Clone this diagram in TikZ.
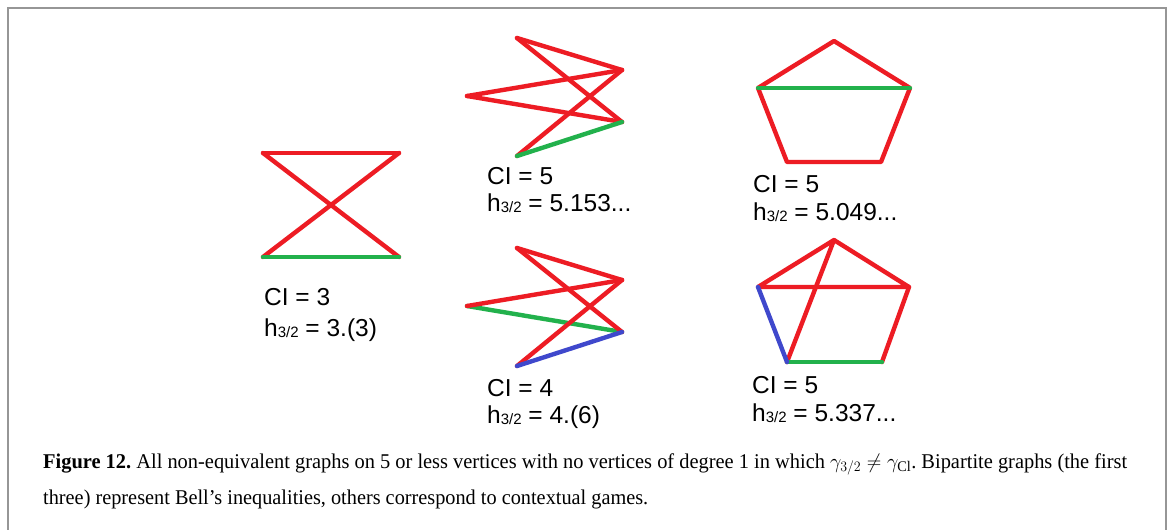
\documentclass[tikz,border=0pt]{standalone}
\usepackage{fontspec}
\usepackage{graphicx}
\setmainfont{Liberation Serif}
\newfontfamily\lblfont{Liberation Sans}
\definecolor{pred}{RGB}{237,28,36}
\definecolor{pgreen}{RGB}{34,177,76}
\definecolor{pblue}{RGB}{63,72,204}
\definecolor{framegray}{RGB}{150,150,150}
\newcommand{\hsub}{h\raisebox{-1.5pt}{\fontsize{15}{15}\selectfont 3/2}}
\frenchspacing
\begin{document}
\begin{tikzpicture}[x=1pt,y=-1pt,
  redge/.style={pred, line width=4.4pt, line cap=round},
  gedge/.style={pgreen, line width=4.4pt, line cap=round},
  bedge/.style={pblue, line width=4.4pt, line cap=round},
  lbl/.style={anchor=base west, inner sep=0pt, font=\lblfont\fontsize{24.5}{24.5}\selectfont},
  captext/.style={anchor=base west, inner sep=0pt, font=\fontsize{21}{25}\selectfont}]
\useasboundingbox (0,0) rectangle (1171,530);
\fill[white] (0,0) rectangle (1171,530);
\draw[framegray, line width=2pt] (8,540) -- (8,7.5) -- (1166,7.5) -- (1166,540);

% Graph 1
\coordinate (g1a) at (263,153);
\coordinate (g1b) at (399,153);
\coordinate (g1c) at (263,257);
\coordinate (g1d) at (399,257);
\draw[redge] (g1a) -- (g1b);
\draw[redge] (g1a) -- (g1d);
\draw[redge] (g1b) -- (g1c);
\draw[gedge] (g1c) -- (g1d);
\node[lbl] (g1l1) at (264,305) {CI = 3};
\node[lbl] (g1l2) at (264,336) {\hsub{} = 3.(3)};

% Graph 2
\coordinate (g2a) at (517,38);
\coordinate (g2b) at (622,70);
\coordinate (g2c) at (467,96);
\coordinate (g2d) at (622,122);
\coordinate (g2e) at (517,156);
\draw[redge] (g2a) -- (g2b);
\draw[redge] (g2a) -- (g2d);
\draw[redge] (g2c) -- (g2b);
\draw[redge] (g2c) -- (g2d);
\draw[redge] (g2e) -- (g2b);
\draw[gedge] (g2e) -- (g2d);
\node[lbl] (g2l1) at (487,184) {CI = 5};
\node[lbl] (g2l2) at (487,211) {\hsub{} = 5.153...};

% Graph 3
\coordinate (g3a) at (517,248);
\coordinate (g3b) at (622,280);
\coordinate (g3c) at (467,306);
\coordinate (g3d) at (622,332);
\coordinate (g3e) at (517,366);
\draw[gedge] (g3c) -- (g3d);
\draw[redge] (g3a) -- (g3b);
\draw[redge] (g3a) -- (g3d);
\draw[redge] (g3c) -- (g3b);
\draw[redge] (g3e) -- (g3b);
\draw[bedge] (g3e) -- (g3d);
\node[lbl] (g3l1) at (487,396) {CI = 4};
\node[lbl] (g3l2) at (487,423) {\hsub{} = 4.(6)};

% Graph 4
\coordinate (g4t) at (834,41);
\coordinate (g4l) at (758,88);
\coordinate (g4r) at (910,88);
\coordinate (g4bl) at (787,162);
\coordinate (g4br) at (881,162);
\draw[redge, line join=round] (g4l) -- (g4t) -- (g4r) -- (g4br) -- (g4bl) -- cycle;
\draw[gedge] (g4l) -- (g4r);
\node[lbl] (g4l1) at (753,192) {CI = 5};
\node[lbl] (g4l2) at (753,220) {\hsub{} = 5.049...};

% Graph 5
\coordinate (g5t) at (834,240);
\coordinate (g5l) at (758,287);
\coordinate (g5r) at (909,287);
\coordinate (g5bl) at (787,362);
\coordinate (g5br) at (882,362);
\draw[redge, line join=round] (g5bl) -- (g5t) -- (g5l) -- (g5r) -- (g5t);
\draw[redge] (g5r) -- (g5br);
\draw[gedge] (g5bl) -- (g5br);
\draw[bedge] (g5l) -- (g5bl);
\node[lbl] (g5l1) at (752,393) {CI = 5};
\node[lbl] (g5l2) at (752,421) {\hsub{} = 5.337...};

% Caption
\node[captext] (cap1) at (43,468) {\resizebox{1084pt}{\height}{\textbf{Figure 12.} All non-equivalent graphs on 5 or less vertices with no vertices of degree 1 in which $\gamma_{3/2}\neq\gamma_{\mathrm{Cl}}$. Bipartite graphs (the first}};
\node[captext] (cap2) at (43,504) {\resizebox{605pt}{\height}{three) represent Bell’s inequalities, others correspond to contextual games.}};
\end{tikzpicture}
\end{document}
